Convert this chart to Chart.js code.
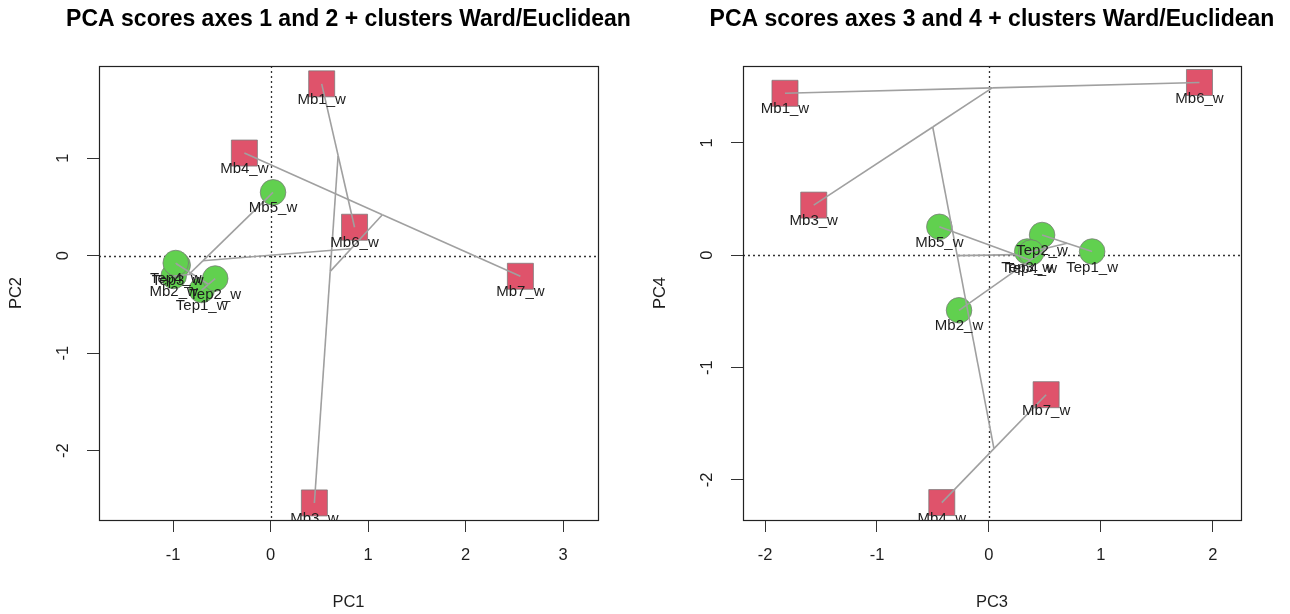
<!DOCTYPE html>
<html>
<head>
<meta charset="utf-8">
<script src="https://cdn.jsdelivr.net/npm/chart.js@4.4.0/dist/chart.umd.min.js"></script>
<style>
  html, body { margin: 0; padding: 0; background: #ffffff; }
  body { width: 1290px; height: 614px; position: relative; overflow: hidden; }
  canvas { position: absolute; top: 0; }
</style>
</head>
<body>
<canvas id="c1" width="645" height="614" style="left:0px"></canvas>
<canvas id="c2" width="646" height="614" style="left:644px"></canvas>
<script>
// ---------- data ----------
const sampleNames = ["Mb1_w","Mb2_w","Mb3_w","Mb4_w","Mb5_w","Mb6_w","Mb7_w","Tep1_w","Tep2_w","Tep3_w","Tep4_w"];
const clusterOf   = [1, 2, 1, 1, 2, 1, 1, 2, 2, 2, 2];
const pc1 = [0.523, -0.995, 0.448, -0.270, 0.024, 0.860, 2.561, -0.708, -0.569, -0.954, -0.974];
const pc2 = [1.763, -0.208, -2.536, 1.053, 0.650, 0.292, -0.211, -0.352, -0.234, -0.095, -0.075];
const pc3 = [-1.822, -0.267, -1.565, -0.421, -0.443, 1.881, 0.511, 0.922, 0.475, 0.342, 0.377];
const pc4 = [1.441, -0.490, 0.446, -2.201, 0.253, 1.537, -1.241, 0.033, 0.180, 0.033, 0.024];
// Ward/Euclidean merge table (hclust style: negative = sample, positive = earlier merge)
const wardMerge = [[-10,-11],[-8,-9],[1,2],[-2,3],[-1,-6],[-4,-7],[-5,4],[5,-3],[8,6],[9,7]];
// axis limits and ticks
const xLim12 = [-1.761, 3.357], yLim12 = [-2.711, 1.946];
const xLim34 = [-2.197, 2.252], yLim34 = [-2.356, 1.684];
const xTicks12 = [-1, 0, 1, 2, 3], yTicks12 = [-2, -1, 0, 1];
const xTicks34 = [-2, -1, 0, 1, 2], yTicks34 = [-2, -1, 0, 1];

// ---------- helpers ----------
const FONT = "'Liberation Sans', Arial, Helvetica, sans-serif";
const RED = '#DF536B', GREEN = '#61D04F';

function leavesOf(idx) {
  if (idx < 0) return [-idx - 1];
  const m = wardMerge[idx - 1];
  return leavesOf(m[0]).concat(leavesOf(m[1]));
}
function centroid(members, xs, ys) {
  let sx = 0, sy = 0;
  members.forEach(i => { sx += xs[i]; sy += ys[i]; });
  return { x: sx / members.length, y: sy / members.length };
}
function treeSegments(xs, ys) {
  const segs = [];
  wardMerge.forEach((m, k) => {
    const parent = centroid(leavesOf(k + 1), xs, ys);
    m.forEach(c => {
      const child = centroid(leavesOf(c), xs, ys);
      segs.push([child, parent]);
    });
  });
  return segs;
}

const framePlugin = {
  id: 'rframe',
  beforeDatasetsDraw(chart) {
    const {ctx, chartArea: a, scales} = chart;
    const x0 = Math.round(scales.x.getPixelForValue(0)) + 0.5;
    const y0 = Math.round(scales.y.getPixelForValue(0)) + 0.5;
    ctx.save();
    ctx.strokeStyle = '#333';
    ctx.lineWidth = 1.3;
    ctx.setLineDash([2, 3]);
    ctx.beginPath();
    ctx.moveTo(x0, a.top); ctx.lineTo(x0, a.bottom);
    ctx.moveTo(a.left, y0); ctx.lineTo(a.right, y0);
    ctx.stroke();
    ctx.restore();
  },
  afterDatasetsDraw(chart) {
    const {ctx, chartArea: a} = chart;
    // point labels below each marker, clipped to the plot region
    ctx.save();
    ctx.beginPath();
    ctx.rect(a.left, a.top, a.right - a.left, a.bottom - a.top);
    ctx.clip();
    ctx.font = '15px ' + FONT;
    ctx.fillStyle = '#1e1e1e';
    ctx.textAlign = 'center';
    ctx.textBaseline = 'middle';
    chart.data.datasets.forEach((ds, di) => {
      if (!ds.pointLabels) return;
      const meta = chart.getDatasetMeta(di);
      meta.data.forEach((pt, i) => {
        ctx.fillText(ds.pointLabels[i], pt.x, pt.y + 16);
      });
    });
    ctx.restore();
    // plot box
    ctx.save();
    ctx.strokeStyle = '#222';
    ctx.lineWidth = 1.2;
    ctx.strokeRect(Math.round(a.left) + 0.5, Math.round(a.top) + 0.5,
                   Math.round(a.right - a.left), Math.round(a.bottom - a.top));
    ctx.restore();
  },
  afterDraw(chart, args, opts) {
    const {ctx, chartArea: a} = chart;
    ctx.save();
    ctx.font = 'bold 23px ' + FONT;
    ctx.fillStyle = '#000';
    ctx.textAlign = 'center';
    ctx.textBaseline = 'middle';
    ctx.fillText(opts.text, (a.left + a.right) / 2, 20);
    ctx.restore();
  }
};

function makeChart(id, xs, ys, xLim, yLim, xTicks, yTicks, xTitle, yTitle, title, padRight) {
  const datasets = [];
  // dendrogram segments (drawn on top of markers)
  treeSegments(xs, ys).forEach(s => {
    datasets.push({
      data: s, showLine: true, borderColor: '#a0a0a0', borderWidth: 1.6,
      pointRadius: 0, pointHoverRadius: 0, order: 0
    });
  });
  [1, 2].forEach(cl => {
    const idx = sampleNames.map((_, i) => i).filter(i => clusterOf[i] === cl);
    datasets.push({
      data: idx.map(i => ({x: xs[i], y: ys[i]})),
      pointLabels: idx.map(i => sampleNames[i]),
      showLine: false,
      pointStyle: cl === 1 ? 'rect' : 'circle',
      pointRadius: cl === 1 ? 18.4 : 12.8,
      pointHoverRadius: cl === 1 ? 18.4 : 12.8,
      backgroundColor: cl === 1 ? RED : GREEN,
      borderColor: 'rgba(120,120,120,0.75)',
      borderWidth: 1,
      order: 1
    });
  });
  const tickFont = {family: FONT, size: 16.5};
  const titleFont = {family: FONT, size: 16.5};
  return new Chart(document.getElementById(id), {
    type: 'scatter',
    data: { datasets },
    options: {
      responsive: false, animation: false, devicePixelRatio: 1,
      events: [],
      layout: { padding: { top: 66, bottom: 0, left: 0, right: padRight } },
      plugins: { legend: { display: false }, tooltip: { enabled: false }, title: { display: false },
                 rframe: { text: title } },
      scales: {
        x: {
          type: 'linear', position: 'bottom', min: xLim[0], max: xLim[1],
          afterBuildTicks: s => { s.ticks = xTicks.map(v => ({value: v})); },
          ticks: { font: tickFont, color: '#1e1e1e', padding: 14, maxRotation: 0, autoSkip: false,
                   callback: v => String(v) },
          grid: { drawOnChartArea: false, drawTicks: true, tickLength: 12, color: '#333', lineWidth: 1 },
          border: { display: false },
          title: { display: true, text: xTitle, font: titleFont, color: '#1e1e1e', padding: {top: 0, bottom: 2} },
          afterFit: s => { s.height = 94; }
        },
        y: {
          type: 'linear', position: 'left', min: yLim[0], max: yLim[1],
          afterBuildTicks: s => { s.ticks = yTicks.map(v => ({value: v})); },
          ticks: { font: tickFont, color: '#1e1e1e', padding: 16, minRotation: 90, maxRotation: 90,
                   crossAlign: 'center', autoSkip: false, callback: v => String(v) },
          grid: { drawOnChartArea: false, drawTicks: true, tickLength: 12, color: '#333', lineWidth: 1 },
          border: { display: false },
          title: { display: true, text: yTitle, font: titleFont, color: '#1e1e1e', padding: {top: 7, bottom: 0} },
          afterFit: s => { s.width = 99; }
        }
      }
    },
    plugins: [framePlugin]
  });
}

makeChart('c1', pc1, pc2, xLim12, yLim12, xTicks12, yTicks12, 'PC1', 'PC2',
          'PCA scores axes 1 and 2 + clusters Ward/Euclidean', 47);
makeChart('c2', pc3, pc4, xLim34, yLim34, xTicks34, yTicks34, 'PC3', 'PC4',
          'PCA scores axes 3 and 4 + clusters Ward/Euclidean', 49);
</script>
</body>
</html>
